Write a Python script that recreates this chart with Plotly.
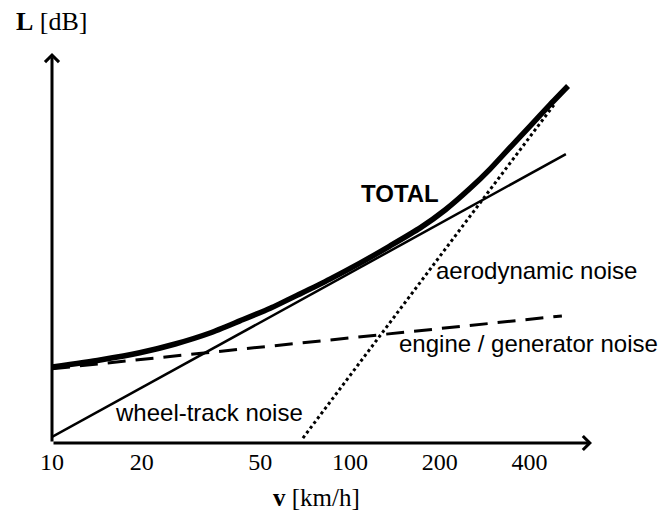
import math
import plotly.graph_objects as go

# Speed axis (km/h, logarithmic) and sound level values (dB)
tick_vals = [10, 20, 50, 100, 200, 400]
tick_text = ["10", "20", "50", "100", "200", "400"]

wheel_v = [10, 530]
wheel_L = [41.1, 92.5]

engine_v = [10, 514]
engine_L = [53.5, 63.1]

aero_v = [69.5, 487]
aero_L = [40.9, 101.7]

total_v = [10, 14.5, 19.7, 25.9, 33.9, 42.7, 54.0, 67.9, 85.6, 108,
           136, 172, 209, 253, 295, 344, 402, 469, 539]
total_L = [53.8, 55.1, 56.4, 58.0, 60.0, 62.2, 64.5, 67.1, 69.8, 72.7,
           75.8, 79.1, 82.4, 86.3, 89.8, 93.7, 97.6, 101.5, 104.9]

X_RANGE = [1.0, 2.812]
Y_RANGE = [40.0, 110.9]

SANS = "Liberation Sans, Arial, sans-serif"
SERIF = "Liberation Serif, Times New Roman, serif"

fig = go.Figure()

fig.add_trace(go.Scatter(x=wheel_v, y=wheel_L, mode="lines",
                         line=dict(color="black", width=2.5)))
fig.add_trace(go.Scatter(x=engine_v, y=engine_L, mode="lines",
                         line=dict(color="black", width=3, dash="18px,10px")))
fig.add_trace(go.Scatter(x=aero_v, y=aero_L, mode="lines",
                         line=dict(color="black", width=3, dash="dot")))
fig.add_trace(go.Scatter(x=total_v, y=total_L, mode="lines",
                         line=dict(color="black", width=5.5, shape="spline",
                                   smoothing=0.6)))

annotations = []

# axis arrows
annotations.append(dict(xref="x domain", yref="y domain", axref="x domain",
                        ayref="y domain", x=1, y=0, ax=0, ay=0, text="",
                        showarrow=True, arrowhead=4, arrowsize=0.9,
                        arrowwidth=3, arrowcolor="black",
                        standoff=0, startstandoff=0))
annotations.append(dict(xref="x domain", yref="y domain", axref="x domain",
                        ayref="y domain", x=0, y=1, ax=0, ay=0, text="",
                        showarrow=True, arrowhead=4, arrowsize=0.9,
                        arrowwidth=3, arrowcolor="black",
                        standoff=0, startstandoff=0))

# curve labels
labels = [
    ("<b>TOTAL</b>", 2.030, 85.3),
    ("aerodynamic noise", 2.282, 71.3),
    ("engine / generator noise", 2.158, 58.0),
    ("wheel-track noise", 1.205, 45.6),
]
for txt, lx, ly in labels:
    annotations.append(dict(xref="x", yref="y", x=lx, y=ly, text=txt,
                            showarrow=False, xanchor="left", yanchor="middle",
                            font=dict(family=SANS, size=24, color="black")))

# axis titles
annotations.append(dict(xref="paper", yref="paper", x=0.0, y=1.082,
                        text="<b>L</b> [dB]", showarrow=False,
                        xanchor="center", yanchor="middle",
                        font=dict(family=SERIF, size=26, color="black")))
annotations.append(dict(xref="paper", yref="paper", x=0.489, y=-0.14,
                        text="<b>v</b> [km/h]", showarrow=False,
                        xanchor="center", yanchor="middle",
                        font=dict(family=SERIF, size=25, color="black")))

fig.update_layout(
    width=659, height=516,
    margin=dict(l=52, r=67, t=53, b=73),
    paper_bgcolor="white", plot_bgcolor="white",
    showlegend=False,
    annotations=annotations,
    xaxis=dict(type="log", range=X_RANGE, showgrid=False, zeroline=False,
               showline=False, ticks="", tickvals=tick_vals,
               ticktext=tick_text, ticklabelstandoff=2,
               tickfont=dict(family=SERIF, size=24, color="black")),
    yaxis=dict(range=Y_RANGE, showgrid=False, zeroline=False,
               showline=False, showticklabels=False, ticks=""),
)

fig.write_html("out.html")
